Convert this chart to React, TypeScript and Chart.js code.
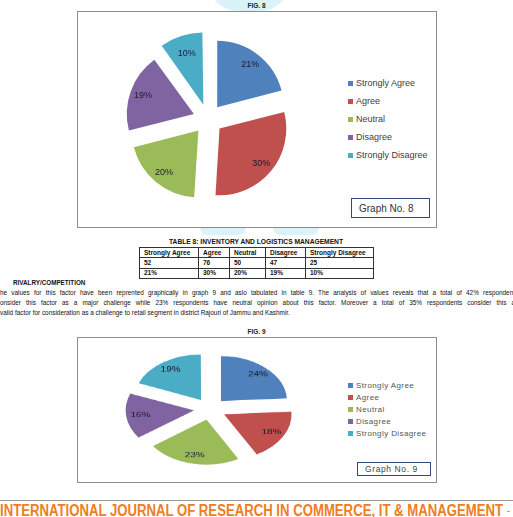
import React, { useEffect, useRef, useLayoutEffect } from "react";
import { Chart, registerables } from "chart.js";

Chart.register(...registerables);

const categories = ["Strongly Agree", "Agree", "Neutral", "Disagree", "Strongly Disagree"];
const fig8Counts = [52, 76, 50, 47, 25];
const fig8Percent = [21, 30, 20, 19, 10];
const fig9Percent = [24, 18, 23, 16, 19];
const sliceColors = ["#4F81BD", "#C0504D", "#9BBB59", "#8064A2", "#4BACC6"];

const paragraphLines = [
  "he values for this factor have been reprented graphically in graph 9 and aslo tabulated in table 9. The analysis of values reveals that a total of 42% respondent",
  "onsider this factor as a major challenge while 23% respondents have neutral opinion about this factor. Moreover a total of 35% respondents consider this a",
  "valid factor for consideration as a challenge to retail segment in district Rajouri of Jammu and Kashmir.",
];

const pctLabels = {
  id: "pctLabels",
  afterDatasetsDraw(chart: any, _args: any, opts: any) {
    const ctx = chart.ctx;
    const meta = chart.getDatasetMeta(0);
    const labels: number[] = opts.values;
    ctx.save();
    ctx.font = opts.font;
    ctx.fillStyle = opts.color;
    ctx.textAlign = "center";
    ctx.textBaseline = "middle";
    meta.data.forEach((arc: any, i: number) => {
      const p = arc.getProps(["x", "y", "startAngle", "endAngle", "outerRadius"], true);
      const mid = (p.startAngle + p.endAngle) / 2;
      // Chart.js translates an arc by offset / 4
      const d = arc.options.offset / 4 + p.outerRadius * opts.frac;
      ctx.fillText(labels[i] + "%", p.x + Math.cos(mid) * d, p.y + Math.sin(mid) * d);
    });
    ctx.restore();
  },
};

function PieCanvas({ data, labels, size, offset, font }: { data: number[]; labels: number[]; size: number; offset: number; font: string }) {
  const ref = useRef<HTMLCanvasElement>(null);
  useEffect(() => {
    const chart = new Chart(ref.current!, {
      type: "pie",
      data: {
        labels: categories,
        datasets: [
          {
            data,
            backgroundColor: sliceColors,
            borderWidth: 0,
            offset,
          },
        ],
      },
      options: {
        responsive: false,
        animation: false,
        layout: { padding: 0 },
        plugins: {
          legend: { display: false },
          tooltip: { enabled: false },
          pctLabels: { values: labels, font, color: "#1a1a2a", frac: 0.82 },
        } as any,
      },
      plugins: [pctLabels],
    });
    return () => chart.destroy();
  }, []);
  return <canvas ref={ref} width={size} height={size} style={{ width: size, height: size, display: "block" }} />;
}

function FitText({ text, width, style }: { text: string; width: number; style: React.CSSProperties }) {
  const ref = useRef<HTMLSpanElement>(null);
  useLayoutEffect(() => {
    const el = ref.current!;
    el.style.transform = "none";
    const w = el.getBoundingClientRect().width;
    if (w > 0) el.style.transform = `scaleX(${width / w})`;
  }, []);
  return (
    <span ref={ref} style={{ ...style, display: "inline-block", whiteSpace: "nowrap", transformOrigin: "left center" }}>
      {text}
    </span>
  );
}

function Legend({ top, gap, fontSize, letterSpacing, color }: { top: number; gap: number; fontSize: number; letterSpacing: number; color: string }) {
  return (
    <>
      {categories.map((c, i) => (
        <div key={c} style={{ position: "absolute", left: 348, top: top + i * gap - 6, height: 12, display: "flex", alignItems: "center" }}>
          <div style={{ width: 5, height: 5, background: sliceColors[i], marginRight: 3 }} />
          <span style={{ fontSize, letterSpacing, color, fontFamily: sans, whiteSpace: "nowrap" }}>{c}</span>
        </div>
      ))}
    </>
  );
}

const sans = "Liberation Sans, Arial, sans-serif";

export default function App() {
  const colW = [59, 31, 36, 40, 68];
  const rows = [categories, fig8Counts.map(String), fig8Percent.map((v) => v + "%")];
  return (
    <div style={{ position: "fixed", left: 0, top: 0, width: 513, height: 517, overflow: "hidden", background: "#fff", fontFamily: sans }}>
      {/* faint watermark pieces */}
      <div style={{ position: "absolute", left: 208, top: -20, width: 82, height: 31, background: "#d9f3f9", borderRadius: "0 0 30px 30px" }} />
      <div style={{ position: "absolute", left: 200, top: 227, width: 46, height: 8, background: "#d9f3f9", borderRadius: "0 0 20px 20px" }} />
      <div style={{ position: "absolute", left: 273, top: 227, width: 46, height: 8, background: "#d9f3f9", borderRadius: "0 0 20px 20px" }} />

      {/* FIG 8 */}
      <div style={{ position: "absolute", left: 0, width: 513, top: 2, textAlign: "center", fontSize: 6.5, lineHeight: "8px", fontWeight: "bold", color: "#222" }}>FIG. 8</div>
      <div style={{ position: "absolute", left: 77, top: 11, width: 358, height: 215, border: "1px solid #8c8c8c", background: "#fff" }} />
      <div style={{ position: "absolute", left: 112, top: 23 }}>
        <PieCanvas data={fig8Percent} labels={fig8Percent} size={192} offset={60} font="9px Liberation Sans, Arial, sans-serif" />
      </div>
      <Legend top={83} gap={18.1} fontSize={9} letterSpacing={0} color="#404040" />
      <div style={{ position: "absolute", left: 351, top: 198, width: 70, height: 18, border: "1.5px solid #2f4a78", display: "flex", alignItems: "center", paddingLeft: 7, boxSizing: "content-box", fontSize: 10, color: "#333" }}>
        Graph No. 8
      </div>

      {/* Table 8 */}
      <div style={{ position: "absolute", left: 169, top: 238, lineHeight: "8px", fontSize: 6.5, height: 8 }}>
        <FitText text="TABLE 8: INVENTORY AND LOGISTICS MANAGEMENT" width={174} style={{ fontSize: 6.5, fontWeight: "bold", color: "#111", lineHeight: "8px" }} />
      </div>
      <table style={{ position: "absolute", left: 139, top: 247, borderCollapse: "collapse", tableLayout: "fixed", width: 234 }}>
        <colgroup>
          {colW.map((w, i) => (
            <col key={i} style={{ width: w }} />
          ))}
        </colgroup>
        <tbody>
          {rows.map((r, ri) => (
            <tr key={ri} style={{ height: 10.3 }}>
              {r.map((t, ci) => (
                <td
                  key={ci}
                  style={{
                    border: "1px solid #333",
                    fontSize: 6.5,
                    fontWeight: "bold",
                    color: "#111",
                    padding: "0 0 0 4px",
                    lineHeight: "8px",
                    whiteSpace: "nowrap",
                    overflow: "hidden",
                  }}
                >
                  {t}
                </td>
              ))}
            </tr>
          ))}
        </tbody>
      </table>

      {/* Section text */}
      <div style={{ position: "absolute", left: 13, top: 279, fontSize: 6.3, lineHeight: "8px", fontWeight: "bold", color: "#111" }}>RIVALRY/COMPETITION</div>
      {paragraphLines.map((l, i) => (
        <div
          key={i}
          style={{
            position: "absolute",
            left: 0,
            top: 289 + i * 10,
            width: i < 2 ? 515 : 600,
            fontSize: 6.4,
            color: "#111",
            textAlign: i < 2 ? "justify" : "left",
            textAlignLast: i < 2 ? "justify" : "left",
            lineHeight: "8px",
            whiteSpace: i < 2 ? "normal" : "nowrap",
          } as any}
        >
          {l}
        </div>
      ))}

      {/* FIG 9 */}
      <div style={{ position: "absolute", left: 0, width: 513, top: 328, textAlign: "center", fontSize: 6.5, lineHeight: "8px", fontWeight: "bold", color: "#222" }}>FIG. 9</div>
      <div style={{ position: "absolute", left: 77, top: 337, width: 358, height: 144, border: "1px solid #8c8c8c", background: "#fff" }} />
      <div style={{ position: "absolute", left: 111.5, top: 311, transform: "scaleY(0.68)", transformOrigin: "center center" }}>
        <PieCanvas data={fig9Percent} labels={fig9Percent} size={196} offset={64} font="10px Liberation Sans, Arial, sans-serif" />
      </div>
      <Legend top={385} gap={12} fontSize={8} letterSpacing={0.4} color="#555" />
      <div style={{ position: "absolute", left: 357, top: 462, width: 65, height: 12, border: "1.5px solid #2f4a78", display: "flex", alignItems: "center", paddingLeft: 7, boxSizing: "content-box", fontSize: 8.5, letterSpacing: 0.6, color: "#444" }}>
        Graph No. 9
      </div>

      {/* Footer */}
      <div style={{ position: "absolute", left: 0, top: 500, width: 513, height: 1, background: "#9a9a9a" }} />
      <div style={{ position: "absolute", left: 0, top: 503, lineHeight: "16px", height: 16 }}>
        <FitText text="INTERNATIONAL JOURNAL OF RESEARCH IN COMMERCE, IT & MANAGEMENT" width={503} style={{ fontSize: 16, fontWeight: "bold", color: "#ef7d22", lineHeight: "16px" }} />
      </div>
      <div style={{ position: "absolute", left: 507, top: 507, fontSize: 8, lineHeight: "8px", color: "#333" }}>-</div>
    </div>
  );
}
